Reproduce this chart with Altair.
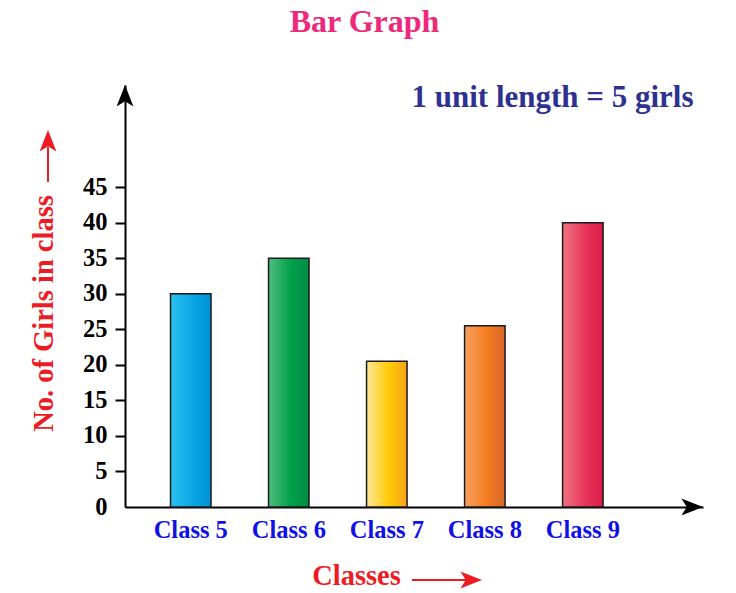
import altair as alt
import pandas as pd

# ---- data ----
classes = ["Class 5", "Class 6", "Class 7", "Class 8", "Class 9"]
girls = [30, 35, 20.5, 25.5, 40]
left_colors = ["#2ac1f2", "#52bd80", "#ffe79a", "#f6a060", "#f27482"]
mid_colors = ["#0aa6e4", "#00a14b", "#ffcb05", "#f47c20", "#e8365a"]
right_colors = ["#0090d4", "#008c42", "#f8a31b", "#d9662a", "#d91c47"]
y_ticks = [0, 5, 10, 15, 20, 25, 30, 35, 40, 45]

title_text = "Bar Graph"
scale_note = "1 unit length = 5 girls"
y_title = "No. of Girls in class"
x_title = "Classes"

df = pd.DataFrame({"cls": classes, "girls": girls})
one = pd.DataFrame({"k": [0]})

W, H = 578, 422
FONT = "Liberation Serif"
RED = "#ed1c24"

x_enc = alt.X(
    "cls:N",
    sort=classes,
    scale=alt.Scale(domain=classes, paddingInner=0.587, paddingOuter=0.742, align=0.313),
    axis=alt.Axis(
        title=None, labelAngle=0, labelFont=FONT, labelFontSize=24.5,
        labelFontWeight="bold", labelColor="#1010e6", labelPadding=11,
        ticks=False, domainColor="black", domainWidth=2,
    ),
)
y_enc = alt.Y(
    "girls:Q",
    scale=alt.Scale(domain=[0, 59.38], nice=False),
    axis=alt.Axis(
        title=None, values=y_ticks, grid=False, labelFont=FONT, labelFontSize=24.5,
        labelFontWeight="bold", labelColor="black", labelPadding=8,
        tickSize=10, tickWidth=2, tickColor="black",
        tickOpacity={"condition": {"test": "datum.value === 0", "value": 0}, "value": 1},
        domainColor="black", domainWidth=2,
    ),
)

layers = []
for c, l, m, r in zip(classes, left_colors, mid_colors, right_colors):
    grad = alt.Gradient(
        gradient="linear", x1=0, x2=1, y1=0, y2=0,
        stops=[
            alt.GradientStop(color=l, offset=0),
            alt.GradientStop(color=m, offset=0.55),
            alt.GradientStop(color=r, offset=1),
        ],
    )
    layers.append(
        alt.Chart(df)
        .transform_filter(alt.datum.cls == c)
        .mark_bar(fill=grad, stroke="#1a1a1a", strokeWidth=1.5)
        .encode(x=x_enc, y=y_enc)
    )

UP = "M0,-1L0.7,0.8L0,0.35L-0.7,0.8Z"
RIGHT = "M1,0L-0.8,0.7L-0.35,0L-0.8,-0.7Z"

annots = [
    alt.Chart(one).mark_text(text=title_text, font=FONT, fontSize=32, fontWeight="bold",
                             color="#ec297b", align="center", baseline="alphabetic")
    .encode(x=alt.value(239.5), y=alt.value(-53)),
    alt.Chart(one).mark_text(text=scale_note, font=FONT, fontSize=31, fontWeight="bold",
                             color="#2e3192", align="center", baseline="alphabetic")
    .encode(x=alt.value(427.5), y=alt.value(22)),
    alt.Chart(one).mark_text(text=y_title, font=FONT, fontSize=28.5, fontWeight="bold",
                             color=RED, align="center", baseline="alphabetic", angle=270)
    .encode(x=alt.value(-72), y=alt.value(228.5)),
    alt.Chart(one).mark_text(text=x_title, font=FONT, fontSize=28.5, fontWeight="bold",
                             color=RED, align="center", baseline="alphabetic")
    .encode(x=alt.value(231.5), y=alt.value(500)),
    # red arrow beside y title
    alt.Chart(one).mark_rule(color=RED, strokeWidth=2)
    .encode(x=alt.value(-77), y=alt.value(97), y2=alt.value(62)),
    alt.Chart(one).mark_point(shape=UP, size=576, filled=True, color=RED, opacity=1, strokeWidth=0)
    .encode(x=alt.value(-77), y=alt.value(57)),
    # red arrow beside x title
    alt.Chart(one).mark_rule(color=RED, strokeWidth=2)
    .encode(x=alt.value(287), x2=alt.value(342), y=alt.value(495)),
    alt.Chart(one).mark_point(shape=RIGHT, size=576, filled=True, color=RED, opacity=1, strokeWidth=0)
    .encode(x=alt.value(345), y=alt.value(495)),
    # axis arrowheads
    alt.Chart(one).mark_point(shape=UP, size=576, filled=True, color="black", opacity=1, strokeWidth=0)
    .encode(x=alt.value(0), y=alt.value(12)),
    alt.Chart(one).mark_point(shape=RIGHT, size=576, filled=True, color="black", opacity=1, strokeWidth=0)
    .encode(x=alt.value(566), y=alt.value(H)),
]

chart = (
    alt.layer(*layers, *annots)
    .properties(
        width=W, height=H,
        autosize=alt.AutoSizeParams(type="none"),
        padding={"left": 125, "top": 85, "right": 33, "bottom": 86},
        background="white",
    )
    .configure_view(strokeWidth=0)
)

chart.save("out.html", embed_options={"renderer": "svg", "actions": False})
